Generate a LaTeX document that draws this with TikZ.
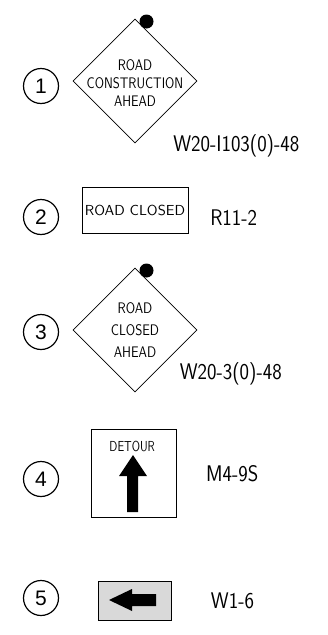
\documentclass[tikz,border=0pt]{standalone}
\usepackage{fontspec}
\newfontfamily\numfont{Liberation Sans}
\usetikzlibrary{shapes.geometric}
\newcommand{\cad}[2][0.84]{\scalebox{#1}[1]{#2}} % letra estrecha tipo CAD
\begin{document}
\begin{tikzpicture}[
        x=1pt, y=-1pt, % un punto = un pixel, eje y hacia abajo
        numero/.style={circle, draw, line width=1.2pt, minimum size=35pt,
            inner sep=0pt, font=\numfont\fontsize{21}{21}\selectfont}, % circulo numerado
        rombo/.style={diamond, draw, line width=0.6pt, minimum width=124pt,
            minimum height=124pt, inner sep=0pt}, % senal de aviso
        leyenda/.style={inner sep=0pt, align=center,
            font=\sffamily\fontsize{15.3}{18.3}\selectfont}, % texto dentro del rombo
        cartel/.style={draw, line width=0.6pt, inner sep=0pt}, % senal rectangular
        codigo/.style={font=\sffamily\fontsize{22.6}{22.6}\selectfont,
            inner sep=0pt, anchor=base}, % codigo de la senal
    ]
        \useasboundingbox (0,0) rectangle (328,635);

        % --- Senal 1 ---
        \node[numero] (n1) at (41,86) {1};
        \node[rombo] (s1) at (135,81) {};
        \node[leyenda] (t1) at (135,83) {\cad{ROAD}\\ \cad{CONSTRUCTION}\\ \cad{AHEAD}};
        \fill (146.5,21.5) circle (7pt);
        \node[codigo] (c1) at (236.3,151.7) {\cad[0.89]{W20-I103(0)-48}};

        % --- Senal 2 ---
        \node[numero] (n2) at (41,217) {2};
        \node[cartel, minimum width=106pt, minimum height=46pt,
            font=\sffamily\fontsize{14.5}{14.5}\selectfont] (s2) at (135,210) {\cad[1.03]{ROAD CLOSED}};
        \node[codigo] (c2) at (233.7,225) {\cad[0.89]{R11-2}};

        % --- Senal 3 ---
        \node[numero] (n3) at (41,332) {3};
        \node[rombo] (s3) at (135,330) {};
        \node[leyenda, font=\sffamily\fontsize{15.3}{22}\selectfont] (t3) at (135,330.3) {\cad[0.85]{ROAD}\\ \cad[0.85]{CLOSED}\\ \cad[0.85]{AHEAD}};
        \fill (146.5,270.5) circle (7pt);
        \node[codigo] (c3) at (230.8,379) {\cad[0.89]{W20-3(0)-48}};

        % --- Senal 4 ---
        \node[numero] (n4) at (41,479) {4};
        \node[cartel, minimum width=85pt, minimum height=88pt] (s4) at (133.5,473) {};
        \node[font=\sffamily\fontsize{14.5}{14.5}\selectfont, inner sep=0pt, anchor=base] (t4) at (132.2,451) {\cad[0.79]{DETOUR}};
        \fill (133,455) -- (147,476) -- (138,476) -- (138,512) -- (127,512)
            -- (127,476) -- (119,476) -- cycle; % flecha hacia arriba
        \node[codigo] (c4) at (232.2,481.7) {\cad[0.89]{M4-9S}};

        % --- Senal 5 ---
        \node[numero] (n5) at (41,598) {5};
        \node[cartel, fill=black!15, minimum width=73pt, minimum height=39pt] (s5) at (134.5,600.5) {};
        \fill (109,600) -- (132,589) -- (132,594) -- (156,594) -- (156,606)
            -- (132,606) -- (132,611) -- cycle; % flecha hacia la izquierda
        \node[codigo] (c5) at (232.5,608.3) {\cad[0.89]{W1-6}};
    \end{tikzpicture}
\end{document}
